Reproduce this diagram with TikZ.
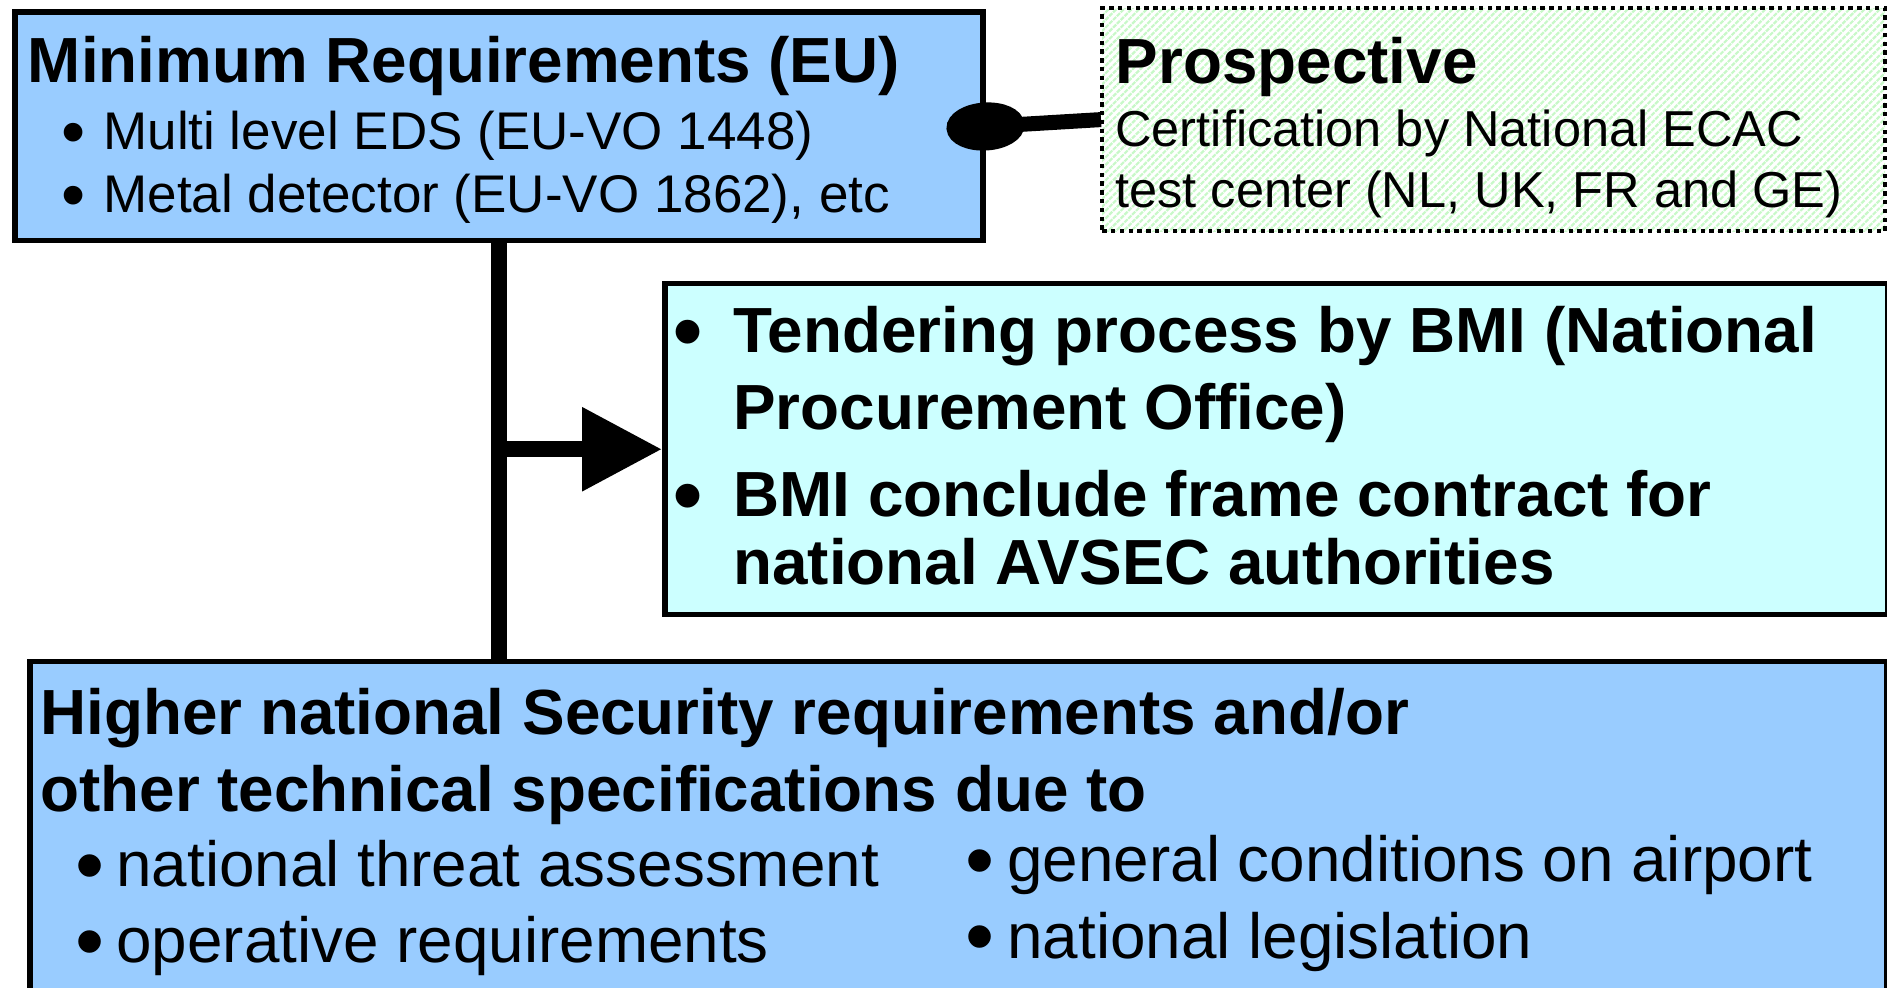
\documentclass[tikz,border=0pt]{standalone}
\usepackage{fontspec}
\setmainfont{Liberation Sans}
\usetikzlibrary{arrows.meta, patterns.meta}

\definecolor{minblue}{HTML}{99CCFF}
\definecolor{tendcyan}{HTML}{CCFFFF}
\definecolor{hatchgreen}{HTML}{C8F8C8}

% bullet centred #1 to the left of the text
\newcommand\bul[1]{\llap{\makebox[0pt]{\raisebox{-0.1em}{\scalebox{1.3}{\textbullet}}}\hspace{#1}}}

\begin{document}
\begin{tikzpicture}[x=0.5pt, y=-0.5pt,
    box/.style = {draw, line width=2.75pt, inner sep=0pt, anchor=north west},
    txt/.style = {anchor=base west, inner sep=0pt},
    big/.style = {txt, font=\fontsize{31.9}{38}\selectfont\bfseries},
    reg/.style = {txt, font=\fontsize{31.9}{38}\selectfont},
    small/.style = {txt, font=\fontsize{26.5}{32}\selectfont},
    prose/.style = {txt, font=\fontsize{25.25}{30}\selectfont},
    ball/.style = {line width=7.5pt, -{Ellipse[length=39pt, width=24pt]}, shorten >=-19.5pt},
    arrow/.style = {line width=8pt, -{Triangle[length=40pt, width=40pt]}}]

    \useasboundingbox (0,0) rectangle (1887,988);
    \clip (0,0) rectangle (1887,988);

    % Boxes
    \node [box, fill=minblue, minimum width=484pt, minimum height=114.25pt] (minreq) at (12,9.5) {};
    \node [box, line width=2pt, dash pattern=on 2.2pt off 2.2pt,
           pattern={Lines[angle=45, distance=2.7pt, line width=1.1pt]}, pattern color=hatchgreen,
           minimum width=391.5pt, minimum height=111.5pt] (prosp) at (1101,7) {};
    \node [box, fill=tendcyan, minimum width=611.25pt, minimum height=165.5pt] (tender) at (662,281) {};
    \node [box, fill=minblue, minimum width=928.5pt, minimum height=180pt] (higher) at (27,659) {};

    % Texts
    \node [big] (mrhead) at (27.5,83) {Minimum Requirements (EU)};
    \node [small] (mreds) at (103,150) {\bul{15pt}Multi level EDS (EU-VO 1448)};
    \node [small] (mrmetal) at (103,213) {\bul{15pt}Metal detector (EU-VO 1862), etc};

    \node [big] (pshead) at (1115.5,84) {Prospective};
    \node [prose] (pscert) at (1115,147) {Certification by National ECAC};
    \node [prose] (pstest) at (1115,208) {test center (NL, UK, FR and GE)};

    \node [big] (td1) at (733,353) {\bul{22.5pt}Tendering process by BMI (National};
    \node [big] (td2) at (733,430) {Procurement Office)};
    \node [big] (td3) at (733,517) {\bul{22.5pt}BMI conclude frame contract for};
    \node [big] (td4) at (733,585) {national AVSEC authorities};

    \node [big] (hi1) at (40,735) {Higher national Security requirements and/or};
    \node [big] (hi2) at (40,812) {other technical specifications due to};
    \node [reg] (hi3) at (116,887) {\bul{13pt}national threat assessment};
    \node [reg] (hi4) at (116,963) {\bul{13pt}operative requirements};
    \node [reg] (hi5) at (1007,882) {\bul{13.5pt}general conditions on airport};
    \node [reg] (hi6) at (1007,958) {\bul{13.5pt}national legislation};

    % Connectors
    \draw [line width=8pt] (minreq.south) -- (minreq.south |- higher.north);
    \draw [arrow] (minreq.south |- tender.west) -- (tender.west);
    \draw [ball] (prosp.west) -- (minreq.east);
\end{tikzpicture}
\end{document}
